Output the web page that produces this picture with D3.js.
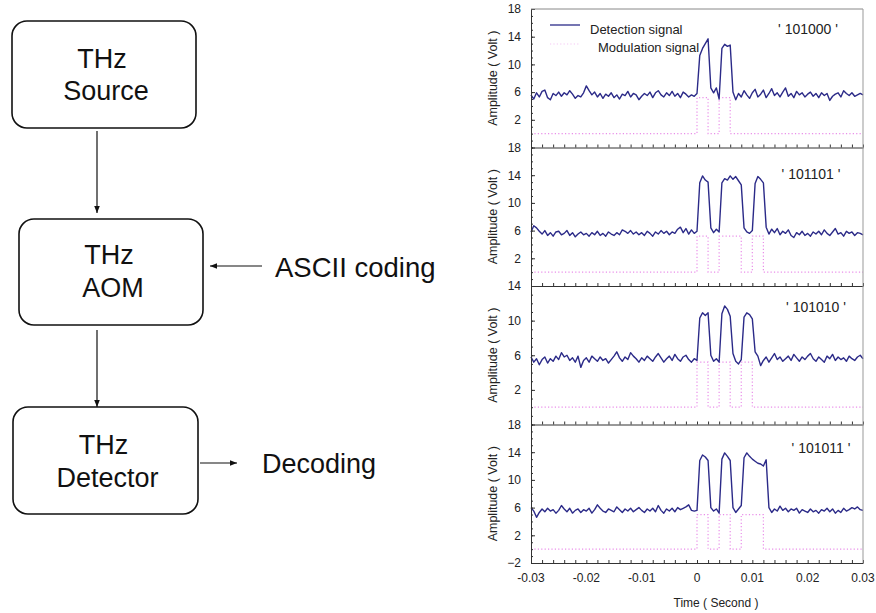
<!DOCTYPE html>
<html>
<head>
<meta charset="utf-8">
<script src="https://cdn.jsdelivr.net/npm/d3@7"></script>
<style>
body { margin: 0; background: #fff; }
svg { display: block; font-family: "Liberation Sans", Arial, sans-serif; }
</style>
</head>
<body>
<div id="chart-area"></div>
<script>
let width = 876,
height = 613;

// ---- data ----
// detection signal sampled every 0.5 ms from -0.03 s to 0.03 s (121 samples)
let t0 = -0.03, dt = 0.0005;

let codes = ["101000", "101101", "101010", "101011"];
let yTops = [18, 18, 14, 18];
let yTicks = [[2, 6, 10, 14, 18], [2, 6, 10, 14, 18], [2, 6, 10, 14], [-2, 2, 6, 10, 14, 18]];
let modHigh = [5.2, 5.2, 5.2, 5.0];
let bitEdges = [0, 0.002, 0.004, 0.006, 0.008, 0.010, 0.012];
let xTickValues = [-0.03, -0.02, -0.01, 0, 0.01, 0.02, 0.03];
let xTickLabels = ["-0.03", "-0.02", "-0.01", "0", "0.01", "0.02", "0.03"];
let boxLabels = [["THz", "Source"], ["THz", "AOM"], ["THz", "Detector"]];

let det1 = [
5.6, 5.0, 5.9, 5.3, 6.1, 6.3, 5.2, 4.9, 5.8, 5.5,
6.0, 5.4, 5.9, 5.6, 6.2, 5.7, 5.1, 5.5, 5.3, 5.9,
6.9, 6.2, 5.6, 6.0, 5.3, 5.8, 5.1, 5.7, 5.4, 5.9,
5.2, 5.6, 5.0, 5.7, 5.5, 6.1, 5.3, 5.8, 5.6, 4.9,
5.4, 5.8, 5.5, 6.0, 5.2, 5.9, 6.2, 5.6, 5.3, 5.9,
5.5, 6.1, 5.4, 5.8, 5.2, 6.0, 5.7, 5.3, 5.6, 5.4,
5.8, 11.3, 12.3, 13.0, 13.7, 6.6, 5.9, 6.6, 5.0, 12.3,
12.9, 12.6, 12.8, 6.0, 4.9, 5.8, 5.3, 6.2, 5.6, 5.1,
5.9, 6.4, 5.3, 5.7, 6.3, 5.2, 5.8, 6.5, 5.5, 5.9,
5.3, 6.0, 6.6, 5.4, 5.8, 5.2, 6.1, 5.6, 5.9, 5.3,
5.7, 6.0, 5.4, 5.8, 5.2, 5.9, 5.5, 5.8, 4.8, 5.4,
5.7, 5.9, 5.3, 6.2, 5.8, 5.5, 5.9, 5.4, 5.6, 5.8,
5.6];

let det2 = [
5.8, 6.7, 6.4, 5.9, 5.5, 6.0, 5.3, 5.7, 5.2, 5.8,
5.9, 5.4, 5.6, 6.0, 5.3, 5.7, 5.1, 5.5, 5.8, 5.4,
5.6, 5.2, 5.7, 5.4, 5.9, 5.3, 5.6, 5.2, 5.8, 5.5,
5.3, 5.7, 5.4, 6.1, 5.9, 5.6, 6.0, 5.5, 5.8, 5.4,
5.7, 5.3, 5.9, 5.6, 5.2, 5.8, 5.5, 6.0, 5.6, 5.9,
5.4, 5.8, 5.6, 6.2, 6.5, 5.7, 6.3, 5.5, 6.1, 5.6,
5.9, 12.9, 13.9, 13.3, 13.0, 6.4, 5.7, 6.2, 5.8, 12.9,
13.5, 13.3, 13.9, 13.4, 13.8, 13.2, 12.6, 6.4, 5.8, 5.6,
6.0, 12.8, 13.8, 13.4, 12.9, 6.5, 5.5, 6.2, 5.7, 6.3,
5.4, 5.9, 5.6, 6.1, 5.3, 5.0, 5.7, 5.4, 5.9, 5.3,
5.6, 5.2, 5.8, 5.5, 5.9, 5.4, 6.1, 5.6, 5.3, 5.8,
6.3, 5.5, 5.7, 5.2, 5.9, 5.6, 5.8, 5.3, 5.7, 5.6,
5.4];

let det3 = [
5.8, 5.2, 5.6, 4.9, 5.5, 5.8, 5.1, 5.6, 5.3, 5.9,
5.5, 6.3, 5.8, 6.0, 5.4, 5.7, 5.2, 5.9, 4.6, 5.4,
5.7, 5.2, 5.9, 5.6, 5.3, 5.8, 5.4, 5.6, 5.1, 5.5,
5.9, 6.4, 5.7, 5.3, 5.8, 5.5, 6.3, 5.9, 5.6, 5.2,
5.7, 5.4, 5.9, 5.6, 5.3, 5.8, 6.2, 5.7, 5.2, 5.6,
5.9, 5.4, 6.1, 5.6, 5.3, 5.8, 6.0, 5.5, 5.2, 5.6,
5.4, 10.3, 10.9, 10.6, 10.9, 6.0, 5.3, 5.6, 5.2, 10.8,
11.7, 11.3, 10.5, 6.2, 5.3, 5.0, 5.5, 10.4, 10.9, 10.7,
10.2, 6.4, 5.9, 4.8, 5.4, 5.8, 5.2, 5.7, 6.2, 5.5,
5.8, 5.3, 5.6, 5.9, 5.4, 6.1, 5.7, 5.3, 5.8, 5.5,
5.9, 6.2, 5.6, 5.3, 5.8, 5.5, 5.2, 5.9, 5.6, 6.1,
5.4, 5.8, 5.5, 5.7, 5.3, 5.9, 5.6, 5.4, 5.8, 6.0,
5.6];

let det4 = [
6.0, 5.5, 4.6, 5.3, 5.8, 5.4, 5.9, 5.5, 5.7, 5.2,
5.6, 6.3, 5.8, 5.4, 5.9, 5.2, 5.6, 5.8, 5.3, 5.7,
5.5, 5.9, 5.2, 5.7, 6.4, 5.9, 5.5, 5.3, 5.8, 5.6,
5.4, 6.1, 5.7, 5.3, 5.8, 5.5, 5.9, 5.4, 5.7, 6.0,
5.6, 5.3, 5.8, 5.5, 5.9, 5.4, 6.3, 5.6, 5.2, 5.8,
5.5, 5.9, 5.4, 6.0, 5.7, 5.9, 6.1, 6.4, 5.6, 5.5,
5.6, 12.8, 13.6, 13.3, 12.8, 6.0, 5.5, 5.8, 5.2, 13.0,
13.9, 13.4, 12.8, 6.0, 5.3, 5.8, 6.3, 13.2, 13.9, 13.4,
13.0, 12.7, 12.4, 12.3, 12.0, 12.9, 6.0, 5.3, 5.8, 5.5,
6.2, 5.6, 5.9, 5.4, 5.8, 5.6, 5.9, 5.2, 5.7, 5.5,
5.3, 5.8, 5.4, 5.6, 5.2, 5.7, 5.5, 5.9, 5.4, 5.8,
5.2, 5.6, 5.3, 5.9, 5.5, 5.7, 6.0, 5.8, 6.1, 5.7,
5.6];

let detData = [det1, det2, det3, det4];

let svg = d3.select("#chart-area").append("svg")
.attr("width", width)
.attr("height", height);

svg.append("rect").attr("width", width).attr("height", height).attr("fill", "#fff");

// arrow head
svg.append("defs").append("marker")
	.attr("id", "head")
	.attr("viewBox", "0 0 10 10")
	.attr("refX", 10).attr("refY", 5)
	.attr("markerWidth", 8).attr("markerHeight", 7)
	.attr("markerUnits", "userSpaceOnUse")
	.attr("orient", "auto")
	.append("path").attr("d", "M0,1 L10,5 L0,9 Z").attr("fill", "#111");

// ---- block diagram ----
let boxes = [
	{x: 12, y: 21, w: 184, h: 107, base: [68, 100]},
	{x: 19, y: 219, w: 184, h: 106, base: [264, 297]},
	{x: 13, y: 407, w: 185, h: 107, base: [454, 487]}
];

let diagram = svg.append("g");

boxes.forEach(function(b, i){
	diagram.append("rect")
		.attr("x", b.x).attr("y", b.y)
		.attr("width", b.w).attr("height", b.h)
		.attr("rx", 15).attr("ry", 15)
		.attr("fill", "none").attr("stroke", "#111").attr("stroke-width", 1.6);
	boxLabels[i].forEach(function(s, j){
		diagram.append("text")
			.attr("x", b.x + b.w / 2 + (j === 0 ? -2 : 2))
			.attr("y", b.base[j])
			.attr("text-anchor", "middle")
			.attr("font-size", 27)
			.attr("fill", "#111")
			.text(s);
	});
});

let arrows = [
	[97, 131, 97, 213],
	[97, 330, 97, 407],
	[262, 266, 210, 266],
	[200, 463, 237, 463]
];
arrows.forEach(function(a){
	diagram.append("line")
		.attr("x1", a[0]).attr("y1", a[1]).attr("x2", a[2]).attr("y2", a[3])
		.attr("stroke", "#111").attr("stroke-width", 1.2)
		.attr("marker-end", "url(#head)");
});

diagram.append("text").attr("x", 275).attr("y", 277).attr("font-size", 27.5).attr("fill", "#111").text("ASCII coding");
diagram.append("text").attr("x", 262).attr("y", 473).attr("font-size", 27).attr("fill", "#111").text("Decoding");

// ---- signal panels ----
let x = d3.scaleLinear().domain([-0.03, 0.03]).range([531, 863]);
let panelTop = 9, panelH = 138.5;
let xMinor = d3.range(-15, 16).map(k => k * 0.002);

let labelPos = [[808, 34], [811, 179], [816, 312], [821, 453]];

detData.forEach(function(vals, p){
	let top = panelTop + p * panelH;
	let y = d3.scaleLinear().domain([-2, yTops[p]]).range([top + panelH, top]);
	let g = svg.append("g");

	// modulation signal (square wave from the bit code)
	let mod = [{t: -0.03, v: 0}];
	codes[p].split("").forEach(function(b, k){
		mod.push({t: bitEdges[k], v: b === "1" ? modHigh[p] : 0});
	});
	mod.push({t: bitEdges[6], v: 0});
	mod.push({t: 0.03, v: 0});

	g.append("path")
		.datum(mod)
		.attr("d", d3.line().x(d => x(d.t)).y(d => y(d.v)).curve(d3.curveStepAfter))
		.attr("fill", "none")
		.attr("stroke", "#e05ee0")
		.attr("stroke-opacity", 0.7)
		.attr("stroke-width", 1.2)
		.attr("stroke-dasharray", "1.2,2.2");

	// detection signal
	g.append("path")
		.datum(vals)
		.attr("d", d3.line().x((d, i) => x(t0 + i * dt)).y(d => y(d)))
		.attr("fill", "none")
		.attr("stroke", "#2b2a88")
		.attr("stroke-width", 1.4)
		.attr("stroke-linejoin", "round");

	// y axis
	let ya = g.append("g")
		.attr("transform", "translate(" + x.range()[0] + ",0)")
		.call(d3.axisLeft(y).tickValues(yTicks[p]).tickSizeInner(-4).tickSizeOuter(0).tickPadding(10));
	ya.selectAll("text").attr("font-size", 12).attr("font-family", "Liberation Sans, Arial, sans-serif").attr("fill", "#222");
	ya.selectAll("line, path").attr("stroke", "#333");

	g.append("g")
		.attr("transform", "translate(" + x.range()[0] + ",0)")
		.call(d3.axisLeft(y).tickValues(d3.range(-2, yTops[p] + 1)).tickSize(-2).tickSizeOuter(0).tickFormat(""))
		.selectAll("line, path").attr("stroke", "#333");

	// panel bottom line with inward ticks
	g.append("g")
		.attr("transform", "translate(0," + (top + panelH) + ")")
		.call(d3.axisBottom(x).tickValues(xMinor).tickSize(-3).tickSizeOuter(0).tickFormat(""))
		.selectAll("line, path").attr("stroke", "#333");

	g.append("text")
		.attr("transform", "translate(497," + (top + panelH / 2) + ") rotate(-90)")
		.attr("text-anchor", "middle")
		.attr("font-size", 12.5)
		.attr("fill", "#222")
		.text("Amplitude ( Volt )");

	g.append("text")
		.attr("x", labelPos[p][0]).attr("y", labelPos[p][1])
		.attr("text-anchor", "middle")
		.attr("font-size", 14)
		.attr("fill", "#222")
		.text("' " + codes[p] + " '");
});

// frame top and right
svg.append("line").attr("x1", 531).attr("x2", 863).attr("y1", panelTop).attr("y2", panelTop).attr("stroke", "#888");
svg.append("line").attr("x1", 863).attr("x2", 863).attr("y1", panelTop).attr("y2", panelTop + 4 * panelH).attr("stroke", "#999");

// x tick labels
svg.selectAll(".xlab")
	.data(xTickValues)
	.enter().append("text")
	.attr("class", "xlab")
	.attr("x", d => x(d))
	.attr("y", 582)
	.attr("text-anchor", "middle")
	.attr("font-size", 12)
	.attr("fill", "#222")
	.text((d, i) => xTickLabels[i]);

svg.append("text")
	.attr("x", 716).attr("y", 607)
	.attr("text-anchor", "middle")
	.attr("font-size", 12)
	.attr("fill", "#222")
	.text("Time ( Second )");

// legend
svg.append("line").attr("x1", 550).attr("x2", 580).attr("y1", 25).attr("y2", 25)
	.attr("stroke", "#2b2a88").attr("stroke-width", 1.3);
svg.append("line").attr("x1", 550).attr("x2", 580).attr("y1", 44).attr("y2", 44)
	.attr("stroke", "#e05ee0").attr("stroke-opacity", 0.35).attr("stroke-dasharray", "1.2,2.2");
svg.append("text").attr("x", 590).attr("y", 34).attr("font-size", 13).attr("fill", "#222").text("Detection signal");
svg.append("text").attr("x", 598).attr("y", 52).attr("font-size", 13).attr("fill", "#222").text("Modulation signal");
</script>
</body>
</html>
